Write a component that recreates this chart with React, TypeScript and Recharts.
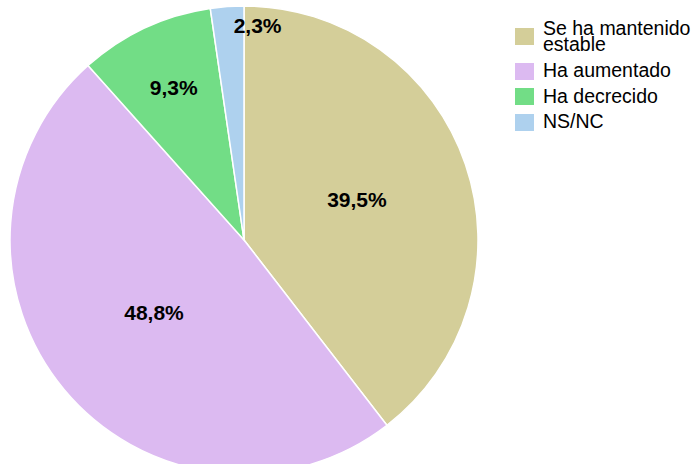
import { PieChart, Pie, Cell } from 'recharts';

const categories = ['Se ha mantenido estable', 'Ha aumentado', 'Ha decrecido', 'NS/NC'];
const values = [39.5, 48.8, 9.3, 2.3];
const colors = ['#d4ce99', '#dcbaf1', '#72dd86', '#aed1ee'];

const data = categories.map((name, i) => ({ name, value: values[i] }));

// label distance from center (share of radius) and horizontal nudge
const labelRadius = [0.51, 0.5, 0.71, 0.91];
const labelShift = [0, 0, 0, 29];

const RADIAN = Math.PI / 180;

function renderLabel(props: any) {
  const { cx, cy, midAngle, outerRadius, index, value } = props;
  const r = outerRadius * labelRadius[index];
  const x = cx + r * Math.cos(-midAngle * RADIAN) + labelShift[index];
  const y = cy + r * Math.sin(-midAngle * RADIAN) - 2;
  return (
    <text
      x={x}
      y={y}
      textAnchor="middle"
      dominantBaseline="central"
      fill="#000"
      fontSize={21}
      fontWeight="bold"
      fontFamily="'Liberation Sans', Arial, sans-serif"
    >
      {value.toFixed(1).replace('.', ',')}%
    </text>
  );
}

export default function App() {
  return (
    <div
      style={{
        position: 'absolute',
        left: 0,
        top: 0,
        width: 692,
        height: 464,
        overflow: 'hidden',
        background: '#fff',
        fontFamily: "'Liberation Sans', Arial, sans-serif",
      }}
    >
      <PieChart width={692} height={464} margin={{ top: 0, right: 0, bottom: 0, left: 0 }}>
        <Pie
          data={data}
          dataKey="value"
          cx={244}
          cy={240}
          outerRadius={234}
          startAngle={90}
          endAngle={-270}
          stroke="#fff"
          strokeWidth={1.5}
          label={renderLabel}
          labelLine={false}
          isAnimationActive={false}
        >
          {data.map((d, i) => (
            <Cell key={d.name} fill={colors[i]} />
          ))}
        </Pie>
      </PieChart>
      <div
        style={{
          position: 'absolute',
          left: 515,
          top: 21,
          width: 177,
          display: 'flex',
          flexDirection: 'column',
          rowGap: 8.5,
        }}
      >
        {categories.map((c, i) => (
          <div
            key={c}
            style={{
              display: 'flex',
              alignItems: 'center',
              paddingBottom: i === 0 ? 2 : 0,
            }}
          >
            <div
              style={{
                width: 19,
                height: 17,
                background: colors[i],
                marginRight: 9,
                flexShrink: 0,
              }}
            />
            <div style={{ fontSize: 19.5, lineHeight: '15.5px', color: '#000', width: 148 }}>{c}</div>
          </div>
        ))}
      </div>
    </div>
  );
}
